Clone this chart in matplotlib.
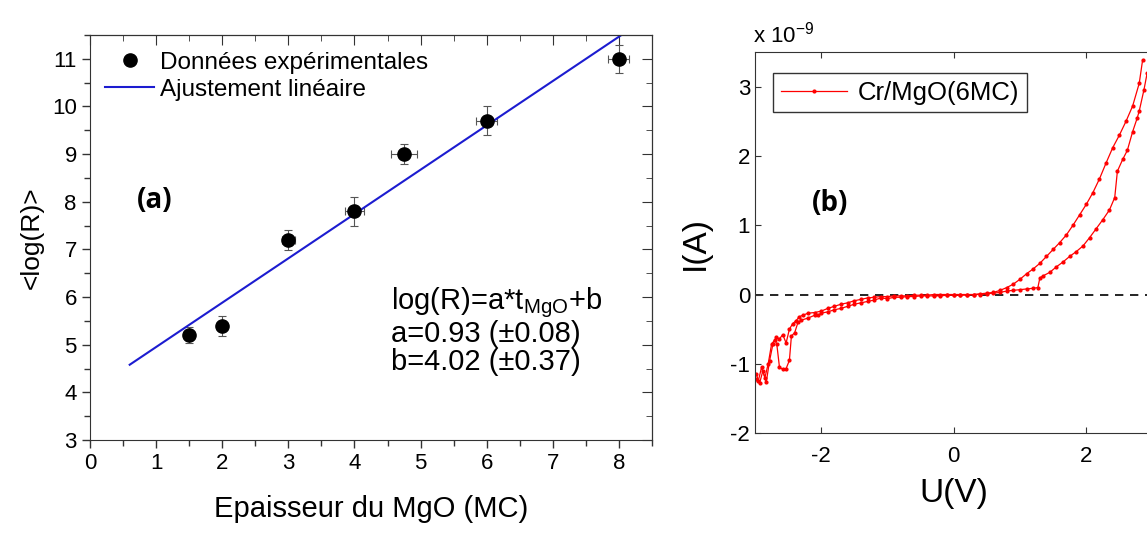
import matplotlib
matplotlib.use("Agg")
import matplotlib.pyplot as plt
from matplotlib.ticker import MultipleLocator

plt.rcParams['font.family'] = ['Liberation Sans', 'DejaVu Sans']
plt.rcParams['axes.unicode_minus'] = False

# (a) données log(R) vs épaisseur MgO
t_mgo = [1.5, 2.0, 3.0, 4.0, 4.75, 6.0, 8.0]
log_r = [5.2, 5.4, 7.2, 7.8, 9.0, 9.7, 11.0]
t_err = [0.05, 0.05, 0.1, 0.15, 0.2, 0.16, 0.16]
log_r_err = [0.17, 0.21, 0.21, 0.3, 0.21, 0.3, 0.29]
fit_x = [0.6, 8.05]
fit_y = [4.58, 11.51]

# (b) courbe I(V), aller et retour
v_up = [-2.98, -2.93, -2.88, -2.83, -2.78, -2.73, -2.68, -2.63, -2.58, -2.53,
        -2.48, -2.43, -2.38, -2.33, -2.28, -2.2, -2.1, -2.0, -1.9, -1.8,
        -1.7, -1.6, -1.5, -1.4, -1.3, -1.2, -1.1, -1.0, -0.9, -0.8,
        -0.7, -0.6, -0.5, -0.4, -0.3, -0.2, -0.1, 0.0, 0.1, 0.2,
        0.3, 0.4, 0.5, 0.6, 0.7, 0.8, 0.9, 1.0, 1.1, 1.2,
        1.3, 1.4, 1.5, 1.6, 1.7, 1.8, 1.9, 2.0, 2.1, 2.2,
        2.3, 2.4, 2.5, 2.6, 2.7, 2.8, 2.85]
i_up = [-1.15, -1.28, -1.1, -1.27, -0.96, -0.72, -0.62, -0.64, -0.58, -0.7,
        -0.5, -0.42, -0.38, -0.32, -0.3, -0.27, -0.26, -0.24, -0.2, -0.17,
        -0.14, -0.12, -0.09, -0.07, -0.05, -0.04, -0.03, -0.03, -0.02, -0.02,
        -0.02, -0.01, -0.01, -0.01, 0.0, 0.0, 0.0, 0.0, 0.0, 0.0,
        0.0, 0.01, 0.02, 0.03, 0.06, 0.1, 0.15, 0.22, 0.3, 0.37,
        0.45, 0.55, 0.65, 0.75, 0.86, 1.0, 1.15, 1.3, 1.47, 1.67,
        1.9, 2.12, 2.3, 2.5, 2.72, 3.05, 3.38]
v_down = [2.92, 2.87, 2.8, 2.77, 2.7, 2.62, 2.55, 2.47, 2.43, 2.35,
          2.25, 2.15, 2.05, 1.95, 1.85, 1.75, 1.65, 1.55, 1.45, 1.35,
          1.3, 1.27, 1.2, 1.1, 1.0, 0.9, 0.8, 0.7, 0.6, 0.5,
          0.4, 0.3, 0.2, 0.1, 0.0, -0.1, -0.2, -0.3, -0.4, -0.5,
          -0.6, -0.7, -0.8, -0.9, -1.0, -1.1, -1.2, -1.3, -1.4, -1.5,
          -1.6, -1.7, -1.8, -1.9, -2.0, -2.05, -2.1, -2.2, -2.3, -2.35,
          -2.4, -2.45, -2.48, -2.53, -2.58, -2.63, -2.67, -2.7, -2.75, -2.8,
          -2.85, -2.9, -2.95, -2.98]
i_down = [3.2, 2.95, 2.65, 2.55, 2.35, 2.08, 1.95, 1.78, 1.4, 1.22,
          1.08, 0.95, 0.82, 0.7, 0.62, 0.55, 0.47, 0.4, 0.32, 0.27,
          0.24, 0.1, 0.09, 0.08, 0.07, 0.06, 0.05, 0.03, 0.02, 0.01,
          0.0, 0.0, -0.01, -0.01, -0.01, -0.01, -0.02, -0.02, -0.02, -0.02,
          -0.03, -0.03, -0.04, -0.04, -0.06, -0.05, -0.08, -0.1, -0.12, -0.14,
          -0.17, -0.2, -0.22, -0.25, -0.27, -0.3, -0.3, -0.34, -0.37, -0.4,
          -0.55, -0.6, -0.95, -1.07, -1.08, -1.05, -0.72, -0.65, -0.72, -1.0,
          -1.2, -1.05, -1.25, -1.22]

fig = plt.figure(figsize=(11.47, 5.34), dpi=100)

# ---- (a)
ax = fig.add_axes([0.0785, 0.176, 0.4899, 0.7585])
ax.errorbar(t_mgo, log_r, xerr=t_err, yerr=log_r_err, fmt='none',
            ecolor='#555555', elinewidth=0.8, capsize=3, capthick=0.8, zorder=2)
ax.plot(t_mgo, log_r, 'o', color='black', markersize=9.5, zorder=3,
        label='Données expérimentales')
ax.plot(fit_x, fit_y, '-', color='#1c1cd0', lw=1.5, zorder=2,
        label='Ajustement linéaire')
ax.set_xlim(0, 8.5)
ax.set_ylim(3, 11.5)
ax.xaxis.set_major_locator(MultipleLocator(1))
ax.xaxis.set_minor_locator(MultipleLocator(0.5))
ax.yaxis.set_major_locator(MultipleLocator(1))
ax.yaxis.set_minor_locator(MultipleLocator(0.5))
ax.tick_params(which='both', direction='out', top=False, right=False,
               labelsize=16, width=1, color='#333333')
ax.tick_params(which='major', length=6)
ax.tick_params(which='minor', length=4)
for loc in ['top', 'right']:
    sec = ax.secondary_xaxis('top') if loc == 'top' else ax.secondary_yaxis('right')
    axis = sec.xaxis if loc == 'top' else sec.yaxis
    axis.set_major_locator(MultipleLocator(1))
    axis.set_minor_locator(MultipleLocator(0.5))
    sec.tick_params(which='both', direction='in', labeltop=False, labelright=False,
                    color='#333333')
    sec.tick_params(which='major', length=7)
    sec.tick_params(which='minor', length=4)
for s in ax.spines.values():
    s.set_color('#333333')
ax.set_xlabel('Epaisseur du MgO (MC)', fontsize=21, labelpad=15)
ax.set_ylabel('<log(R)>', fontsize=19, labelpad=6)
ax.legend(loc='upper left', frameon=False, fontsize=17.5, handlelength=2.0,
          borderaxespad=0, labelspacing=0.22, handletextpad=0.25,
          bbox_to_anchor=(0.01, 0.983))
ax.text(0.98, 8.03, '(a)', fontsize=20, fontweight='bold', family='Open Sans',
        ha='center', va='center')
ax.text(4.55, 6.24,
        'log(R)=a*t$_{\\mathregular{MgO}}$+b\na=0.93 (±0.08)\nb=4.02 (±0.37)',
        fontsize=21, va='top', ha='left', linespacing=1.0)

# ---- (b)
bx = fig.add_axes([0.6582, 0.189, 0.3466, 0.7136])
bx.axhline(0, color='black', ls=(0, (5, 4)), lw=1.2, zorder=1)
bx.plot(v_up, i_up, '-', color='red', lw=0.9, marker='.', markersize=4,
        label='Cr/MgO(6MC)', zorder=2)
bx.plot(v_down, i_down, '-', color='red', lw=0.9, marker='.', markersize=4, zorder=2)
bx.set_xlim(-3, 3)
bx.set_ylim(-2, 3.5)
bx.set_xticks([-2, 0, 2])
bx.set_yticks([-2, -1, 0, 1, 2, 3])
bx.tick_params(which='both', direction='in', top=True, right=True,
               labelsize=16, length=4, color='#333333')
bx.tick_params(axis='x', pad=9)
for s in bx.spines.values():
    s.set_color('#333333')
bx.set_xlabel('U(V)', fontsize=24, labelpad=8)
bx.set_ylabel('I(A)', fontsize=24, labelpad=14)
bx.text(-0.005, 1.024, r'x 10$^{\mathregular{-9}}$', transform=bx.transAxes,
        fontsize=16, ha='left', va='baseline')
bx.legend(loc='upper left', fontsize=18.5, fancybox=False, edgecolor='#333333',
          framealpha=1, handlelength=2.6, borderaxespad=0, borderpad=0.3,
          handletextpad=0.4, bbox_to_anchor=(0.045, 0.945))
bx.text(-1.86, 1.32, '(b)', fontsize=20, fontweight='bold', family='Open Sans',
        ha='center', va='center')

fig.savefig('out.png', dpi=100)
